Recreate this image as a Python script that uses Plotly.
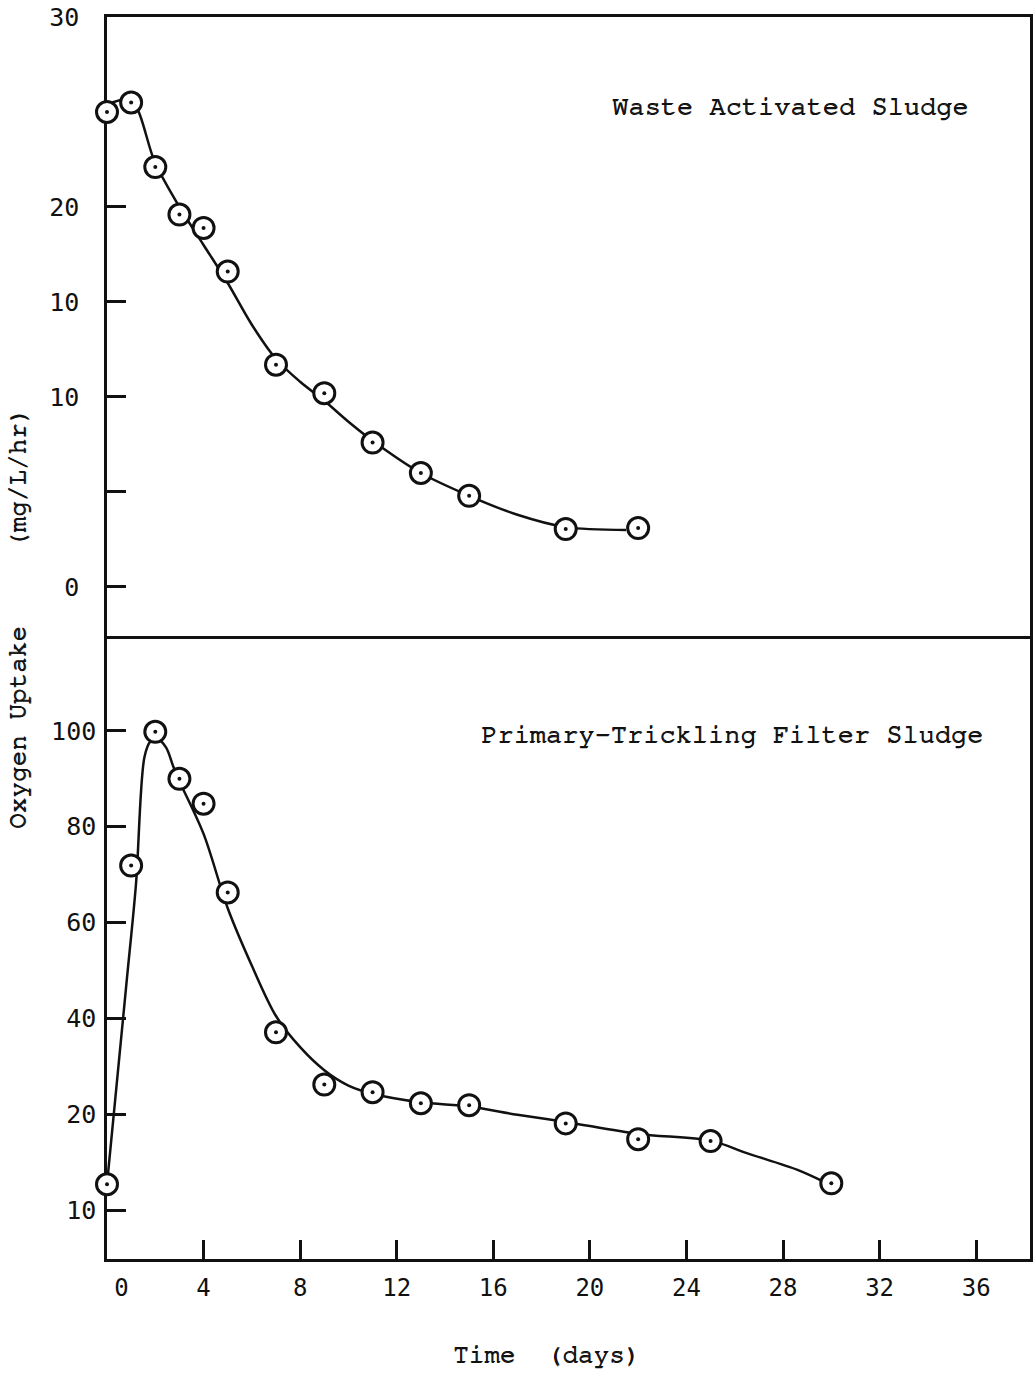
import plotly.graph_objects as go
from plotly.subplots import make_subplots

# Waste activated sludge: measured points and drawn curve
was_days = [0, 1, 2, 3, 4, 5, 7, 9, 11, 13, 15, 19, 22]
was_uptake = [25.0, 25.5, 22.1, 19.6, 18.9, 16.6, 11.7, 10.2, 7.6, 6.0, 4.8, 3.05, 3.1]
was_curve_days = [0, 1, 2, 3, 4, 5, 6, 7, 8, 9, 10, 11, 13, 15, 17, 19, 21.5]
was_curve_uptake = [25.4, 25.6, 22.3, 20.0, 18.0, 16.0, 13.8, 12.0, 10.8, 9.8, 8.7, 7.7, 6.0, 4.8, 3.8, 3.15, 3.0]

# Primary-trickling filter sludge: measured points and drawn curve
ptf_days = [0, 1, 2, 3, 4, 5, 7, 9, 11, 13, 15, 19, 22, 25, 30]
ptf_uptake = [5.4, 71.9, 99.8, 90.0, 84.8, 66.3, 37.1, 26.2, 24.6, 22.3, 21.9, 18.1, 14.8, 14.4, 5.6]
ptf_curve_days = [0, 0.8, 1.2, 1.55, 1.8, 2.1, 2.45, 2.75, 3, 4, 5, 6, 7, 8, 9, 10,
                  11, 13, 15, 17, 19, 22, 25, 26.5, 28.6, 29.7]
ptf_curve_uptake = [5.4, 47, 68, 94.5, 97.8, 98.3, 96.5, 92.5, 89.5, 78.5, 63, 51, 40.5, 34.0,
                    29.2, 26.0, 24.3, 22.5, 21.6, 19.9, 18.4, 15.9, 14.5, 11.9, 8.4, 5.9]

# Axis ticks as typed on the chart
top_tickvals = [0, 5, 10, 15, 20, 30]
top_ticktext = ["0", "", "10", "10", "20", "30"]
bot_tickvals = [0, 20, 40, 60, 80, 100]
bot_ticktext = ["10", "20", "40", "60", "80", "100"]
x_tickvals = [0, 4, 8, 12, 16, 20, 24, 28, 32, 36]
x_ticktext = ["\u00a0\u00a00", "4", "8", "12", "16", "20", "24", "28", "32", "36"]

INK = "#111111"
TYPE_FONT = "Nimbus Mono PS, FreeMono, Courier Prime, Liberation Mono, monospace"
TICK_FONT = "DejaVu Sans Mono"

fig = make_subplots(rows=2, cols=1, shared_xaxes=True, vertical_spacing=0,
                    row_heights=[619, 623])

def add_panel(row, cx, cy, px, py):
    # smooth hand-drawn style curve
    fig.add_trace(go.Scatter(x=cx, y=cy, mode="lines",
                             line=dict(color=INK, width=2.5, shape="spline", smoothing=0.9),
                             cliponaxis=False, showlegend=False, hoverinfo="skip"), row=row, col=1)
    # open circles with a centre dot
    fig.add_trace(go.Scatter(x=px, y=py, mode="markers",
                             marker=dict(symbol="circle", size=21, color="white",
                                         line=dict(width=3, color=INK)),
                             cliponaxis=False, showlegend=False), row=row, col=1)
    fig.add_trace(go.Scatter(x=px, y=py, mode="markers",
                             marker=dict(symbol="circle", size=4, color=INK, line=dict(width=0)),
                             cliponaxis=False, showlegend=False, hoverinfo="skip"), row=row, col=1)

add_panel(1, was_curve_days, was_curve_uptake, was_days, was_uptake)
add_panel(2, ptf_curve_days, ptf_curve_uptake, ptf_days, ptf_uptake)

axis_common = dict(showline=True, linecolor=INK, linewidth=2.5, showgrid=False,
                   zeroline=False, ticks="inside", tickcolor=INK, tickwidth=2.5, ticklen=19,
                   layer="below traces")

# x axes: top panel draws top border and divider, bottom panel draws bottom axis only
fig.update_xaxes(range=[0, 38.23], tickvals=x_tickvals, ticktext=x_ticktext,
                 tickfont=dict(family=TICK_FONT, size=24, color=INK), **axis_common)
fig.update_xaxes(showticklabels=False, ticks="", mirror=True, row=1, col=1)
fig.update_xaxes(mirror=False, ticklabelstandoff=5, row=2, col=1)

fig.update_yaxes(range=[-2.58, 30], tickvals=top_tickvals, ticktext=top_ticktext, mirror=True,
                 tickfont=dict(family=TICK_FONT, size=25, color=INK), ticklabelstandoff=20,
                 row=1, col=1, **axis_common)
fig.update_yaxes(range=[-10.2, 119.8], tickvals=bot_tickvals, ticktext=bot_ticktext, mirror=True,
                 tickfont=dict(family=TICK_FONT, size=25, color=INK), ticklabelstandoff=3,
                 row=2, col=1, **axis_common)

# typewriter lettering, slightly thickened
type_font = dict(family=TYPE_FONT, size=27, color=INK,
                 shadow="0.8px 0 0 #111111, 0 0.5px 0 #111111")
fig.add_annotation(text="Waste Activated Sludge", x=28.3, y=25.3, xref="x", yref="y",
                   showarrow=False, font=type_font)
fig.add_annotation(text="Primary-Trickling Filter Sludge", x=25.9, y=99.4, xref="x2", yref="y2",
                   showarrow=False, font=type_font)
fig.add_annotation(text="Oxygen Uptake\u00a0\u00a0\u00a0\u00a0\u00a0(mg/L/hr)", textangle=-90,
                   xref="paper", yref="paper", x=0, y=0.5153, xshift=-89, showarrow=False,
                   xanchor="center", yanchor="middle", font=dict(type_font, size=26))
fig.add_annotation(text="Time\u00a0\u00a0(days)", xref="paper", yref="paper", x=0.476, y=0, yshift=-95,
                   showarrow=False, xanchor="center", yanchor="middle",
                   font=dict(type_font, size=26))

fig.update_layout(width=1035, height=1374, margin=dict(l=107, r=2, t=17, b=115),
                  paper_bgcolor="white", plot_bgcolor="white")

fig.write_html("out.html")
